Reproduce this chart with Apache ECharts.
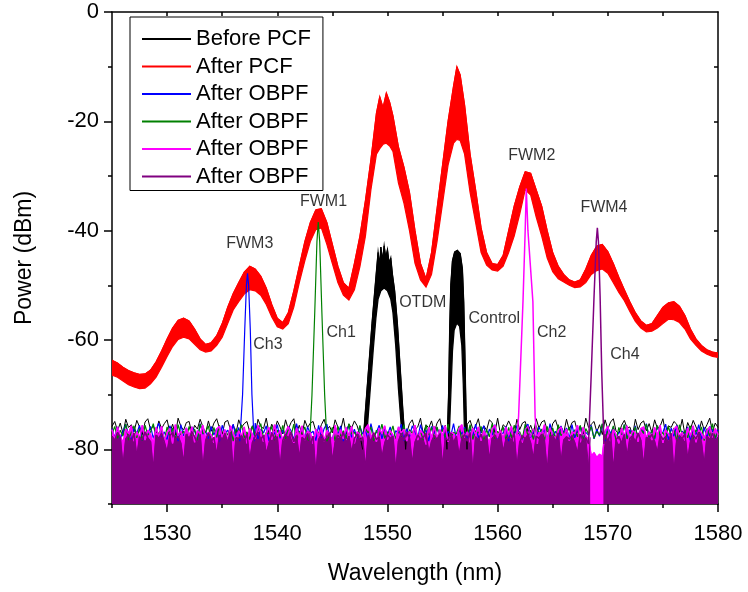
<!DOCTYPE html>
<html><head><meta charset="utf-8">
<script src="https://cdn.jsdelivr.net/npm/echarts@6/dist/echarts.min.js"></script>
<style>html,body{margin:0;padding:0;background:#fff}#c{width:748px;height:592px}</style>
</head><body><div id="c"></div>
<script>
// ---------- DATA ----------
const xMajor = [1530,1540,1550,1560,1570,1580];
const xMinor = [1525,1535,1545,1555,1565,1575];
const xAll = [1530,1535,1540,1545,1550,1555,1560,1565,1570,1575];
const yMajor = [-80,-60,-40,-20,0];
const yMinor = [-90,-70,-50,-30,-10];
const yAll = [-80,-70,-60,-50,-40,-30,-20,-10];

const legendNames = ['Before PCF','After PCF','After OBPF','After OBPF ','After OBPF  ','After OBPF   '];

// noise floor samples, every 0.25 nm from 1525 to 1580
const noiseStart = 1525, noiseStep = 0.25;
const noiseBlack = [
-75.8,-74.9,-76.6,-75.2,-77.1,-74.5,-76.0,-75.5,-76.8,-74.7,-75.9,-77.3,-75.0,-74.4,-76.4,-75.7,-77.0,-74.8,-76.2,-75.3,
-74.6,-76.9,-75.4,-77.4,-74.3,-75.8,-76.5,-75.1,-74.9,-77.2,-75.6,-76.3,-74.5,-75.9,-77.0,-74.8,-76.7,-75.2,-74.4,-76.1,
-77.3,-75.0,-74.7,-76.4,-75.5,-77.1,-74.6,-76.0,-75.3,-74.9,-76.8,-75.7,-77.4,-74.5,-75.8,-76.2,-74.3,-77.0,-75.4,-76.6,
-74.8,-75.9,-77.2,-74.6,-76.3,-75.1,-74.4,-76.9,-75.6,-77.3,-74.7,-76.0,-75.2,-74.9,-76.7,-77.1,-75.5,-74.5,-76.4,-75.8,
-77.0,-74.6,-75.9,-76.5,-74.3,-77.2,-75.4,-76.1,-74.8,-75.7,-77.4,-74.5,-76.2,-75.0,-76.8,-74.4,-75.6,-77.1,-74.9,-76.3,
-75.1,-77.3,-74.7,-76.0,-75.8,-74.5,-76.6,-77.0,-75.3,-74.6,-76.4,-75.9,-74.3,-77.2,-75.5,-76.1,-74.8,-76.9,-75.2,-74.4,
-76.7,-75.6,-77.4,-74.9,-76.2,-75.0,-74.5,-76.8,-77.1,-75.4,-74.7,-76.3,-75.8,-74.4,-77.0,-75.7,-76.5,-74.6,-75.1,-76.9,
-74.3,-77.2,-75.5,-76.0,-74.8,-75.9,-77.3,-74.5,-76.4,-75.2,-74.9,-76.7,-75.6,-77.1,-74.4,-76.1,-75.0,-74.7,-76.6,-77.4,
-75.3,-74.6,-76.2,-75.8,-77.0,-74.5,-76.5,-75.1,-74.8,-76.9,-75.7,-77.2,-74.3,-76.0,-75.4,-74.9,-76.8,-75.5,-77.3,-74.6,
-76.3,-75.0,-74.4,-76.7,-77.1,-75.6,-74.7,-76.1,-75.9,-77.4,-74.5,-76.4,-75.2,-74.8,-76.6,-75.3,-77.0,-74.6,-76.2,-75.8,
-74.4,-77.2,-75.7,-76.0,-74.9,-75.4,-76.9,-74.5,-77.3,-75.1,-76.3,-74.7,-75.9,-77.0,-74.8,-76.5,-75.5,-74.3,-76.8,-75.2,
-76.0];
const noiseBlue = [
-76.2,-77.8,-75.9,-78.1,-76.7,-75.4,-77.5,-78.3,-76.0,-77.1,-75.6,-78.4,-76.9,-77.3,-75.8,-78.0,-76.4,-75.2,-77.7,-76.8,
-78.2,-75.7,-77.0,-76.3,-78.5,-75.5,-77.6,-76.1,-77.9,-75.9,-76.6,-78.3,-75.3,-77.2,-76.8,-78.0,-75.8,-77.4,-76.2,-78.6,
-75.6,-77.1,-76.5,-78.2,-75.4,-77.8,-76.0,-77.3,-78.4,-75.9,-76.7,-77.5,-75.2,-78.1,-76.3,-77.0,-75.7,-78.5,-76.9,-77.2,
-75.5,-78.0,-76.4,-77.7,-75.8,-76.6,-78.3,-75.3,-77.4,-76.1,-78.1,-75.9,-77.1,-76.7,-78.4,-75.6,-77.9,-76.2,-75.4,-77.6,
-78.2,-76.0,-77.3,-75.7,-78.5,-76.8,-75.5,-77.8,-76.3,-78.0,-75.8,-77.2,-76.5,-78.3,-75.3,-77.5,-76.9,-75.6,-78.1,-76.1,
-77.4,-75.9,-78.2,-76.6,-77.0,-75.4,-78.4,-76.2,-77.7,-75.7,-76.8,-78.0,-75.5,-77.3,-76.4,-78.5,-75.8,-77.1,-76.0,-77.9,
-75.6,-78.3,-76.7,-77.5,-75.3,-78.1,-76.5,-77.2,-75.9,-78.4,-76.1,-77.6,-75.4,-77.9,-76.8,-75.7,-78.2,-76.3,-77.4,-75.5,
-78.0,-76.9,-77.1,-75.8,-78.5,-76.2,-77.7,-75.6,-77.3,-78.3,-76.0,-75.4,-77.8,-76.6,-78.1,-75.9,-77.0,-76.4,-78.4,-75.3,
-77.5,-76.7,-78.2,-75.7,-77.2,-76.1,-78.0,-75.5,-77.9,-76.5,-75.8,-78.3,-76.9,-77.4,-75.6,-78.1,-76.3,-77.6,-75.4,-78.5,
-76.0,-77.1,-75.9,-78.2,-76.8,-77.3,-75.5,-78.0,-76.4,-77.7,-75.7,-78.4,-76.2,-77.0,-75.3,-77.8,-76.6,-78.1,-75.8,-77.5,
-76.9,-75.4,-78.3,-76.1,-77.6,-75.6,-78.0,-76.7,-77.2,-75.9,-78.5,-76.3,-77.4,-75.5,-78.2,-76.0,-77.9,-75.8,-76.5,-78.1,
-76.4];
const noiseGreen = [
-77.2,-75.8,-78.0,-76.5,-77.6,-75.4,-78.3,-76.9,-75.7,-77.9,-76.2,-78.4,-75.6,-77.4,-76.8,-75.3,-78.1,-77.0,-76.4,-78.5,
-75.9,-77.7,-76.1,-78.2,-75.5,-77.3,-76.7,-78.0,-75.8,-77.5,-76.3,-78.4,-75.4,-77.1,-76.9,-75.7,-78.3,-76.0,-77.8,-75.6,
-78.1,-76.6,-77.4,-75.9,-78.5,-76.2,-77.0,-75.5,-77.9,-76.8,-78.2,-75.7,-77.6,-76.4,-75.3,-78.0,-76.9,-77.2,-75.8,-78.3,
-76.5,-77.7,-75.6,-78.1,-76.1,-77.5,-75.4,-78.4,-76.7,-77.1,-75.9,-78.2,-76.3,-77.8,-75.5,-77.3,-76.8,-78.0,-75.7,-77.4,
-76.0,-78.5,-75.8,-77.6,-76.6,-78.1,-75.3,-77.2,-76.9,-77.9,-75.6,-78.3,-76.2,-77.0,-75.9,-78.4,-76.5,-77.5,-75.4,-78.0,
-76.8,-77.3,-75.7,-78.2,-76.1,-77.7,-75.5,-78.5,-76.4,-77.1,-75.8,-77.9,-76.7,-78.3,-75.6,-77.4,-76.0,-78.1,-75.9,-77.6,
-76.3,-78.0,-75.4,-77.8,-76.9,-77.2,-75.7,-78.4,-76.2,-77.5,-75.5,-78.2,-76.6,-77.0,-75.8,-78.5,-76.4,-77.7,-75.3,-78.1,
-76.7,-77.4,-75.9,-78.3,-76.0,-77.9,-75.6,-77.3,-76.8,-78.0,-75.4,-77.6,-76.5,-78.2,-75.7,-77.1,-76.3,-78.4,-75.8,-77.8,
-76.1,-78.1,-75.5,-77.5,-76.9,-77.0,-75.9,-78.3,-76.4,-77.7,-75.6,-78.5,-76.2,-77.2,-75.8,-78.0,-76.7,-77.4,-75.3,-78.2,
-76.6,-77.8,-75.7,-78.4,-76.0,-77.3,-75.5,-78.1,-76.8,-77.6,-75.9,-78.3,-76.3,-77.1,-75.4,-77.9,-76.5,-78.0,-75.6,-77.5,
-76.9,-78.2,-75.8,-77.7,-76.1,-78.5,-75.5,-77.4,-76.6,-77.9,-75.7,-78.1,-76.4,-77.2,-75.9,-78.4,-76.2,-77.6,-75.3,-78.0,
-76.7];
const noiseMagenta = [
-76.4,-78.2,-75.9,-77.6,-78.8,-76.3,-77.1,-75.7,-78.5,-76.8,-77.9,-75.6,-78.3,-76.5,-77.3,-79.0,-76.0,-77.8,-75.8,-78.6,
-77.0,-76.2,-78.9,-75.5,-77.5,-76.7,-78.4,-76.1,-77.7,-75.9,-78.7,-76.6,-77.2,-75.6,-78.1,-76.9,-77.4,-78.8,-76.3,-75.8,
-77.9,-76.4,-78.5,-75.7,-77.0,-78.3,-76.6,-77.6,-75.9,-78.9,-76.2,-77.3,-78.0,-75.6,-76.8,-78.6,-77.1,-76.0,-78.2,-75.5,
-77.7,-76.5,-78.4,-76.9,-75.8,-77.4,-78.8,-76.1,-77.8,-75.7,-78.3,-76.7,-77.0,-79.0,-76.3,-77.5,-75.9,-78.5,-76.6,-77.2,
-78.7,-75.6,-77.9,-76.4,-78.1,-76.0,-77.6,-75.8,-78.9,-76.8,-77.3,-78.4,-76.2,-75.5,-77.8,-76.9,-78.6,-76.1,-77.1,-75.7,
-78.2,-76.6,-77.4,-78.8,-75.9,-77.0,-76.3,-78.5,-76.7,-77.7,-75.6,-78.3,-76.5,-77.2,-79.1,-76.0,-77.9,-75.8,-78.0,-76.4,
-77.5,-75.7,-78.6,-76.9,-77.1,-78.2,-76.2,-75.5,-77.8,-76.8,-78.7,-76.1,-77.3,-75.9,-78.4,-76.6,-77.6,-78.9,-76.3,-75.6,
-77.9,-76.5,-78.1,-76.0,-77.4,-75.8,-78.5,-76.7,-77.0,-78.8,-76.4,-75.7,-77.7,-76.2,-78.3,-76.9,-77.2,-75.5,-78.6,-76.1,
-77.5,-78.0,-76.6,-75.9,-77.8,-76.3,-78.4,-76.8,-77.1,-75.6,-78.7,-76.0,-77.6,-78.2,-81.2,-80.6,-81.5,-80.9,-81.3,-76.7,
-75.8,-78.5,-76.4,-77.3,-78.9,-76.1,-77.7,-75.7,-78.2,-76.6,-77.0,-78.6,-76.2,-75.9,-77.9,-76.8,-78.3,-76.0,-77.4,-75.6,
-78.8,-76.5,-77.2,-78.1,-76.3,-75.8,-77.6,-76.9,-78.4,-76.1,-77.5,-75.7,-78.7,-76.4,-77.1,-78.0,-76.6,-75.9,-77.8,-76.2,
-77.3];
const noisePurple = [
-77.6,-78.4,-76.9,-77.8,-83.2,-78.1,-77.3,-78.8,-77.0,-81.5,-77.7,-78.3,-76.8,-77.9,-78.6,-84.0,-77.4,-78.0,-77.1,-78.7,
-80.6,-77.5,-76.9,-78.2,-77.6,-78.9,-82.7,-77.2,-78.1,-76.8,-77.7,-79.0,-77.3,-83.8,-78.4,-77.0,-78.6,-77.8,-81.2,-77.4,
-78.3,-77.1,-78.8,-76.9,-84.5,-77.9,-78.0,-77.5,-78.5,-77.2,-82.1,-78.7,-77.6,-76.9,-78.2,-77.4,-80.9,-78.9,-77.0,-78.1,
-77.7,-83.5,-78.4,-77.2,-78.0,-76.9,-78.6,-77.5,-81.8,-77.8,-78.3,-77.1,-79.0,-77.6,-84.8,-78.2,-77.3,-78.5,-77.9,-77.0,
-82.4,-78.7,-77.4,-78.1,-76.9,-78.8,-77.6,-80.7,-78.0,-77.2,-78.4,-77.8,-83.9,-77.5,-78.6,-77.0,-78.2,-77.7,-81.6,-78.9,
-77.3,-78.0,-77.6,-84.2,-78.5,-77.1,-78.3,-76.9,-77.9,-82.9,-78.7,-77.4,-78.1,-77.8,-77.0,-80.8,-78.6,-77.5,-78.2,-77.2,
-83.4,-77.9,-78.4,-77.0,-78.8,-77.6,-81.3,-78.1,-77.3,-78.5,-76.9,-84.6,-77.7,-78.3,-77.2,-78.9,-77.5,-82.2,-78.0,-77.4,
-78.6,-77.1,-80.5,-78.2,-77.8,-78.4,-77.0,-83.6,-78.7,-77.5,-78.1,-77.3,-78.9,-81.9,-77.6,-78.0,-77.2,-78.5,-84.3,-77.8,
-77.4,-78.6,-77.0,-82.6,-78.3,-77.7,-78.1,-77.5,-78.8,-80.9,-77.2,-78.4,-77.9,-83.1,-77.8,-78.0,-77.6,-78.3,-77.9,-77.3,
-78.5,-77.1,-84.1,-78.2,-77.6,-78.9,-77.3,-81.4,-78.0,-77.5,-78.7,-77.0,-78.4,-83.3,-77.8,-78.1,-77.2,-78.6,-80.7,-77.4,
-78.2,-77.7,-78.9,-77.1,-84.7,-78.3,-77.5,-78.0,-77.2,-82.0,-78.6,-77.4,-78.1,-76.9,-78.8,-83.0,-77.6,-78.3,-77.0,-78.5,
-77.8];
// purple trace leaves the floor uncovered inside the Ch4 pass band
const purpleGapEdges = [[1568.4,-77.8],[1569.6,-78.2]];

// After PCF: upper / lower envelope of the fast oscillation
const redX = [1525,1525.5,1526,1526.5,1527,1527.5,1528,1528.5,1529,1529.5,1530,1530.5,1531,1531.5,1532,1532.5,1533,1533.5,1534,1534.5,
1535,1535.5,1536,1536.5,1537,1537.5,1538,1538.5,1539,1539.5,1540,1540.5,1541,1541.5,1542,1542.5,1543,1543.5,1544,1544.5,
1545,1545.5,1546,1546.5,1547,1547.5,1548,1548.5,1549,1549.3,1549.6,1549.9,1550.2,1550.5,1551,1551.5,1552,1552.5,1553,1553.5,
1554,1554.5,1555,1555.5,1556,1556.3,1556.6,1557,1557.5,1558,1558.5,1559,1559.5,1560,1560.5,1561,1561.5,1562,1562.5,1563,
1563.5,1564,1564.5,1565,1565.5,1566,1566.5,1567,1567.5,1568,1568.5,1569,1569.5,1570,1570.5,1571,1571.5,1572,1572.5,1573,
1573.5,1574,1574.5,1575,1575.5,1576,1576.5,1577,1577.5,1578,1578.5,1579,1579.5,1580];
const redUp = [-63.7,-64.2,-65.0,-65.6,-66.0,-66.3,-66.2,-65.5,-64.0,-62.0,-59.8,-57.8,-56.4,-56.0,-56.5,-58.0,-59.8,-60.8,-60.5,-59.2,
-57.0,-54.0,-51.5,-49.5,-47.6,-46.5,-47.0,-48.3,-50.5,-53.5,-56.0,-56.8,-55.0,-51.0,-46.5,-42.0,-38.5,-36.2,-36.0,-38.5,
-42.5,-46.5,-49.5,-50.5,-46.0,-41.0,-34.5,-27.0,-18.5,-15.5,-17.5,-14.8,-16.5,-19.0,-24.7,-28.4,-33.0,-40.0,-46.0,-48.8,
-44.0,-36.0,-28.0,-20.0,-13.5,-10.0,-11.5,-17.0,-26.0,-32.5,-39.5,-44.0,-46.0,-46.2,-44.5,-40.0,-35.5,-32.0,-29.2,-29.5,
-32.5,-35.5,-40.0,-44.0,-46.5,-48.0,-49.0,-49.4,-49.0,-47.0,-44.5,-42.8,-42.5,-43.8,-46.0,-48.5,-50.8,-53.0,-55.0,-56.5,
-57.3,-57.0,-55.5,-54.0,-53.2,-53.0,-53.8,-55.5,-58.0,-59.8,-61.0,-61.8,-62.2,-62.4];
const redLo = [-66.4,-66.8,-67.5,-68.2,-68.6,-68.9,-68.8,-68.0,-66.8,-65.0,-63.0,-61.2,-59.9,-59.5,-59.8,-60.8,-61.8,-62.2,-62.0,-61.0,
-59.5,-57.0,-54.5,-53.0,-51.6,-50.8,-51.0,-51.8,-53.5,-55.8,-57.6,-58.0,-57.0,-54.0,-49.5,-45.5,-42.0,-39.8,-39.5,-42.5,
-46.0,-49.5,-51.8,-52.7,-50.8,-46.6,-41.0,-32.5,-26.0,-25.0,-24.2,-24.0,-24.5,-25.5,-31.3,-35.0,-40.0,-46.0,-49.0,-50.3,
-48.0,-42.0,-35.0,-28.0,-24.0,-23.3,-23.5,-26.0,-33.0,-38.5,-44.0,-46.3,-47.2,-47.4,-46.5,-44.0,-41.0,-37.0,-32.5,-33.5,
-37.5,-41.0,-45.0,-47.5,-48.8,-49.4,-50.0,-50.4,-50.3,-49.5,-48.0,-47.3,-47.0,-47.8,-49.5,-51.3,-52.8,-54.8,-56.6,-57.8,
-58.5,-58.4,-57.8,-57.0,-56.2,-56.3,-56.8,-58.0,-59.8,-61.0,-62.0,-62.6,-63.0,-63.2];

// Before PCF: OTDM and control pulses (upper and inner edge)
const otdmUp = [[1547.75,-80],[1548.0,-73],[1548.3,-65],[1548.6,-57],[1548.85,-51],[1549.0,-47.5],[1549.15,-44],[1549.3,-46.5],[1549.4,-43],[1549.55,-45.5],[1549.7,-42.8],[1549.85,-45],[1550.0,-43.5],[1550.15,-46],[1550.3,-45],[1550.45,-48],[1550.65,-51],[1550.9,-57],[1551.15,-65],[1551.4,-73],[1551.65,-80]];
const otdmLo = [[1547.75,-80],[1548.1,-78],[1548.4,-70],[1548.7,-62],[1548.95,-56],[1549.15,-52.5],[1549.4,-51],[1549.7,-50.5],[1550.0,-51],[1550.3,-52.5],[1550.5,-55],[1550.75,-61],[1551.0,-69],[1551.3,-77],[1551.6,-80]];
const ctrlUp = [[1555.4,-80],[1555.55,-70],[1555.65,-58],[1555.75,-50],[1555.9,-45.5],[1556.1,-43.9],[1556.35,-43.6],[1556.6,-44.2],[1556.8,-47],[1556.92,-53],[1557.02,-62],[1557.12,-72],[1557.22,-80]];
const ctrlLo = [[1555.4,-80],[1555.6,-78],[1555.75,-70],[1555.9,-62],[1556.05,-58.2],[1556.3,-56.9],[1556.55,-57.5],[1556.75,-61],[1556.88,-68],[1556.98,-76],[1557.05,-79.5],[1557.22,-80]];

// After OBPF: filtered channels
const ch3Peak = [[1536.6,-78.5],[1536.85,-70],[1537.05,-58],[1537.2,-50],[1537.3,-47.8],[1537.4,-50],[1537.55,-58],[1537.7,-70],[1537.9,-78.5]];
const ch1Peak = [[1542.95,-78.5],[1543.15,-70],[1543.4,-55],[1543.6,-42],[1543.72,-38.4],[1543.85,-42],[1544.05,-55],[1544.3,-70],[1544.5,-78.5]];
const ch2Peak = [[1561.7,-79],[1561.9,-74],[1562.3,-53],[1562.5,-40],[1562.6,-32.3],[1562.75,-40],[1563.2,-53],[1563.4,-74],[1563.6,-79]];
const ch4Peak = [[1568.25,-79],[1568.5,-66],[1568.75,-52],[1568.95,-42],[1569.05,-39.5],[1569.15,-42],[1569.3,-52],[1569.45,-66],[1569.65,-79]];

// annotations
const annoText = ['FWM3','FWM1','FWM2','FWM4','Ch3','Ch1','OTDM','Control','Ch2','Ch4'];
const annoX = [1537.5,1544.2,1563.1,1569.65,1539.15,1545.8,1553.2,1559.7,1564.9,1571.55];
const annoY = [-42.3,-34.6,-26.2,-35.7,-60.9,-58.7,-53.2,-56.1,-58.7,-62.6];

// ---------- BUILD ----------
const FONT = 'Liberation Sans';
function noisePairs(vals){ return vals.map((v,i)=>[noiseStart + i*noiseStep, v]); }
function withPeaks(noise, peaks){
  let out = noise.filter(p => !peaks.some(pk => p[0] >= pk[0][0] && p[0] <= pk[pk.length-1][0]));
  peaks.forEach(pk => { out = out.concat(pk); });
  out.sort((a,b)=>a[0]-b[0]);
  return out;
}
const redUpPairs = redX.map((x,i)=>[x, redUp[i]]);
const redLoPairs = redX.map((x,i)=>[x, redLo[i]]);
const inGap = p => p[0] >= purpleGapEdges[0][0] && p[0] <= purpleGapEdges[1][0];

const purpleArea = (function(){
  const n = noisePairs(noisePurple);
  const left = n.filter(p => p[0] < purpleGapEdges[0][0]);
  const right = n.filter(p => p[0] > purpleGapEdges[1][0]);
  return left.concat([purpleGapEdges[0], [(purpleGapEdges[0][0]+purpleGapEdges[1][0])/2, '-'], purpleGapEdges[1]], right);
})();

function bandSeries(name, color, bands, lw){
  return {
    type:'custom', name, silent:true, clip:true,
    xAxisIndex:0, yAxisIndex:0,
    data: bands.map((b,i)=>[b.up[0][0], b.up[0][1], i]),
    renderItem: function(params, api){
      const b = bands[api.value(2)];
      const pts = b.up.concat(b.lo.slice().reverse()).map(p => api.coord(p));
      return {type:'polygon', shape:{points:pts}, style:{fill:color, stroke:color, lineWidth:lw}};
    }
  };
}
function lineSeries(name, color, data, lw, extra){
  return Object.assign({
    type:'line', name, data, symbol:'none', showSymbol:false, silent:true,
    xAxisIndex:0, yAxisIndex:0, sampling:null,
    lineStyle:{color, width:lw}, itemStyle:{color}, emphasis:{disabled:true}
  }, extra||{});
}

const series = [
  lineSeries('Before PCF', '#000000', withPeaks(noisePairs(noiseBlack), [otdmUp, ctrlUp]), 1),
  bandSeries('bkfill', '#000000', [{up:otdmUp, lo:otdmLo},{up:ctrlUp, lo:ctrlLo}], 1.3),
  lineSeries('After PCF', '#ff0000', redUpPairs, 1),
  bandSeries('redfill', '#ff0000', [{up:redUpPairs, lo:redLoPairs}], 1.2),
  lineSeries('After OBPF', '#0000ff', withPeaks(noisePairs(noiseBlue), [ch3Peak]), 1.2),
  lineSeries('After OBPF ', '#008000', withPeaks(noisePairs(noiseGreen), [ch1Peak]), 1.2),
  lineSeries('magArea', '#ff00ff', noisePairs(noiseMagenta), 1, {areaStyle:{color:'#ff00ff', opacity:1, origin:'start'}}),
  lineSeries('After OBPF  ', '#ff00ff', withPeaks(noisePairs(noiseMagenta), [ch2Peak]), 1.5),
  lineSeries('purArea', '#800080', purpleArea, 1, {areaStyle:{color:'#800080', opacity:1, origin:'start'}, connectNulls:false}),
  lineSeries('After OBPF   ', '#800080', withPeaks(noisePairs(noisePurple).filter(p=>!inGap(p)), [ch4Peak]), 1.5),
  {
    type:'scatter', name:'labels', silent:true, symbolSize:1, itemStyle:{color:'rgba(0,0,0,0)'},
    xAxisIndex:0, yAxisIndex:0,
    data: annoText.map((t,i)=>({name:t, value:[annoX[i], annoY[i]]})),
    label:{show:true, position:'inside', formatter:p=>p.name, color:'#000', fontSize:16, fontFamily:FONT}
  }
];

const blackLine = {color:'#000', width:1.5};
const option = {
  animation:false,
  backgroundColor:'#ffffff',
  textStyle:{fontFamily:FONT},
  grid:[
    {left:112, right:30, top:12, bottom:88},
    {left:112, right:30, top:12, bottom:88}
  ],
  legend:{
    data:legendNames, orient:'vertical', left:130, top:17,
    padding:[11,12,3,12], itemGap:5.5, itemWidth:49, itemHeight:2, icon:'rect',
    borderColor:'#000', borderWidth:1, backgroundColor:'#fff',
    selectedMode:false, formatter: n => n.trim(),
    textStyle:{fontSize:22, color:'#000', fontFamily:FONT}
  },
  xAxis:[
    {type:'value', gridIndex:0, position:'bottom', min:1525, max:1580,
     axisLine:{show:true, onZero:false, lineStyle:blackLine},
     axisTick:{show:true, customValues:xMajor, length:8, lineStyle:blackLine},
     axisLabel:{customValues:xMajor, formatter: v => String(v), color:'#000', fontSize:22, margin:19, fontFamily:FONT},
     splitLine:{show:false},
     name:'Wavelength (nm)', nameLocation:'middle', nameGap:58,
     nameTextStyle:{fontSize:23, color:'#000', fontFamily:FONT}},
    {type:'value', gridIndex:1, position:'bottom', min:1525, max:1580,
     axisLine:{show:false, onZero:false},
     axisTick:{show:true, customValues:xMinor, length:4, lineStyle:blackLine},
     axisLabel:{show:false}, splitLine:{show:false}},
    {type:'value', gridIndex:1, position:'top', min:1525, max:1580,
     axisLine:{show:true, onZero:false, lineStyle:blackLine},
     axisTick:{show:true, inside:true, customValues:xAll, length:4, lineStyle:blackLine},
     axisLabel:{show:false}, splitLine:{show:false}}
  ],
  yAxis:[
    {type:'value', gridIndex:0, position:'left', min:-90, max:0,
     axisLine:{show:true, onZero:false, lineStyle:blackLine},
     axisTick:{show:true, customValues:yMajor, length:8, lineStyle:blackLine},
     axisLabel:{customValues:yMajor, formatter: v => String(v), color:'#000', fontSize:22, margin:13, fontFamily:FONT},
     splitLine:{show:false},
     name:'Power (dBm)', nameLocation:'middle', nameGap:76, nameRotate:90,
     nameTextStyle:{fontSize:23, color:'#000', fontFamily:FONT}},
    {type:'value', gridIndex:1, position:'left', min:-90, max:0,
     axisLine:{show:false, onZero:false},
     axisTick:{show:true, customValues:yMinor, length:4, lineStyle:blackLine},
     axisLabel:{show:false}, splitLine:{show:false}},
    {type:'value', gridIndex:1, position:'right', min:-90, max:0,
     axisLine:{show:true, onZero:false, lineStyle:blackLine},
     axisTick:{show:true, inside:true, customValues:yAll, length:4, lineStyle:blackLine},
     axisLabel:{show:false}, splitLine:{show:false}}
  ],
  series
};
const chart = echarts.init(document.getElementById('c'), null, {renderer:'canvas'});
chart.setOption(option);
</script>
</body></html>
